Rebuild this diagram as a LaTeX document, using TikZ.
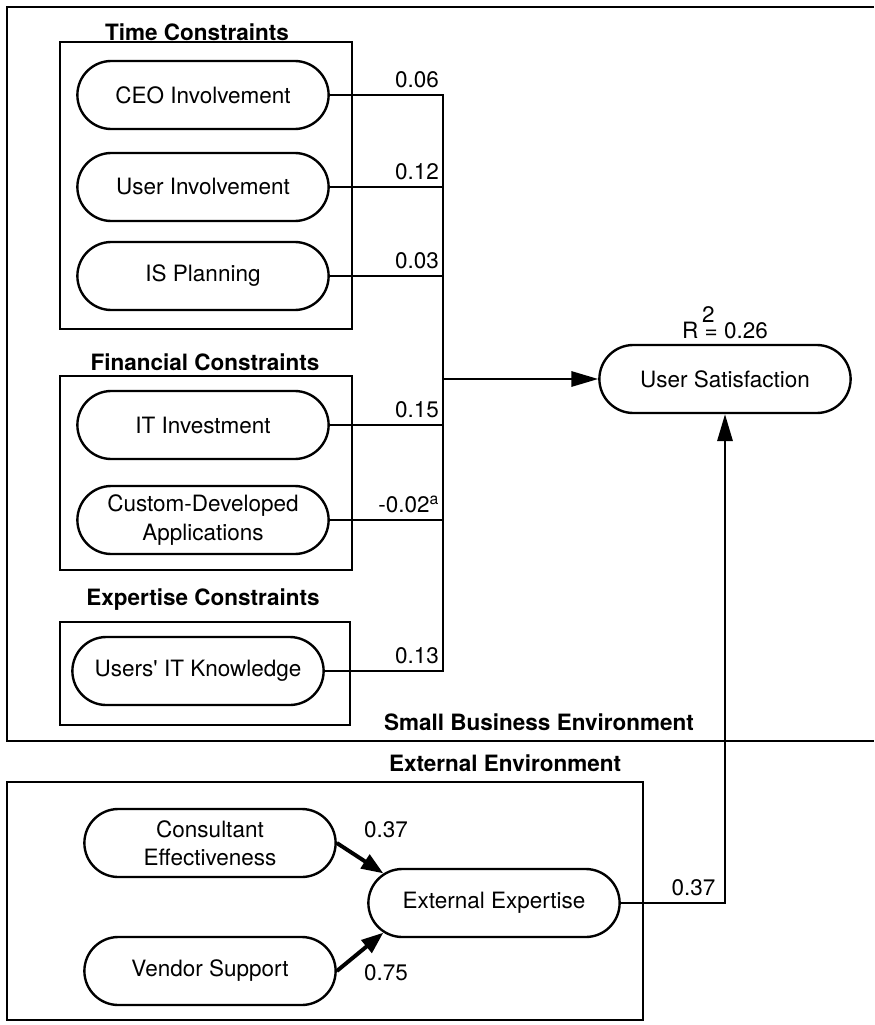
\documentclass[tikz,border=0pt]{standalone}
\usepackage{fontspec}
\setmainfont{TeX Gyre Heros}
\usetikzlibrary{shapes.misc,arrows.meta}

\tikzset{
	factor/.style={draw,rounded rectangle,line width=1.7pt,minimum width=6.35cm,minimum height=1.7cm,align=center,inner sep=1pt},
	grouplbl/.style={font=\fontsize{16}{20}\selectfont\bfseries},
	wt/.style={anchor=south east,inner xsep=2pt,inner ysep=4pt},
	link/.style={line width=1.7pt},
	bigarr/.style={line width=1.7pt,-{Triangle[length=0.67cm,width=0.38cm]}},
	thickarr/.style={line width=2.8pt,-{Triangle[length=0.55cm,width=0.4cm]}}
}

\begin{document}
\begin{tikzpicture}[x=0.025cm,y=-0.025cm,font=\fontsize{16}{20}\selectfont]
	\useasboundingbox (0,0) rectangle (874,1025);

	% environment and constraint frames
	\draw[line width=1.9pt] (874,7) -- (7,7) -- (7,741) -- (874,741);
	\draw[line width=1.7pt] (60,42) rectangle (352,329);
	\draw[line width=1.7pt] (60,376) rectangle (352,570);
	\draw[line width=1.7pt] (60,622) rectangle (350,725);
	\draw[line width=1.9pt] (7,782) rectangle (643,1020);

	\node[grouplbl] (timelbl) at (197,32) {Time Constraints};
	\node[grouplbl] (finlbl) at (205,362) {Financial Constraints};
	\node[grouplbl] (explbl) at (203,600) {Expertise Constraints};
	\node[grouplbl] (sbelbl) at (539,722) {Small Business Environment};
	\node[grouplbl] (extlbl) at (505,763) {External Environment};

	\node[factor] (ceo) at (203,95) {CEO Involvement};
	\node[factor] (userinv) at (203,187) {User Involvement};
	\node[factor] (isplan) at (203,276) {IS Planning};
	\node[factor] (itinv) at (203,425) {IT Investment};
	\node[factor] (custom) at (203,520) {Custom-Developed\\Applications};
	\node[factor] (itknow) at (198,671) {Users\textquotesingle\ IT Knowledge};

	\node[factor] (usersat) at (725,379) {User Satisfaction};
	\node[above] (rsq) at (usersat.north) {R\,\raisebox{0.72em}{2}\kern-0.45em= 0.26};

	\node[factor] (consult) at (210,843) {Consultant\\Effectiveness};
	\node[factor] (vendor) at (210,971) {Vendor Support};
	\node[factor] (extexp) at (494,903) {External Expertise};

	% paths into user satisfaction
	\coordinate (bus) at (443,95);
	\draw[link] (ceo.east) -- (ceo.east -| bus) node[wt] {0.06} -- (bus |- itknow.east) node[wt] {0.13} -- (itknow.east);
	\draw[link] (userinv.east) -- (userinv.east -| bus) node[wt] {0.12};
	\draw[link] (isplan.east) -- (isplan.east -| bus) node[wt] {0.03};
	\draw[link] (itinv.east) -- (itinv.east -| bus) node[wt] {0.15};
	\draw[link] (custom.east) -- (custom.east -| bus) node[wt] {-0.02\textsuperscript{a}};
	\draw[bigarr] (bus |- usersat.west) -- (usersat.west);

	\draw[bigarr] (extexp.east) -| node[pos=0.5,wt,inner xsep=6pt] {0.37} (usersat.south);

	\draw[thickarr] (consult.east) -- (extexp.165);
	\draw[thickarr] (vendor.east) -- (extexp.195);
	\node (wcons) at (386,830) {0.37};
	\node (wvend) at (386,973) {0.75};
\end{tikzpicture}
\end{document}
